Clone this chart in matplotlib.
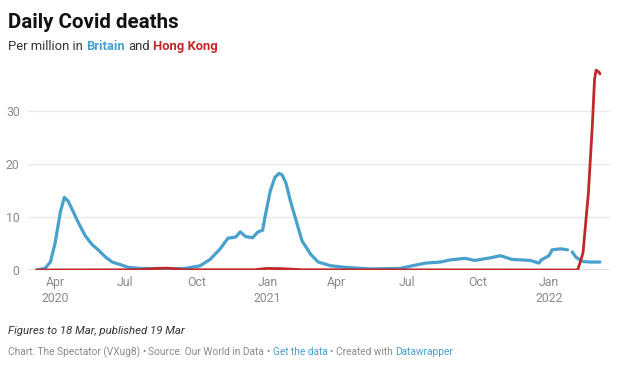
import matplotlib
matplotlib.use('Agg')
import matplotlib.pyplot as plt
import numpy as np
import pandas as pd

# Britain: daily deaths per million (7-day average)
uk_dates = ['2020-03-08', '2020-03-19', '2020-03-26', '2020-04-01', '2020-04-08',
            '2020-04-13', '2020-04-18', '2020-04-23', '2020-05-01', '2020-05-10',
            '2020-05-19', '2020-05-27', '2020-06-05', '2020-06-14', '2020-06-25',
            '2020-07-05', '2020-07-20', '2020-08-15', '2020-09-17', '2020-10-06',
            '2020-10-19', '2020-11-01', '2020-11-11', '2020-11-21', '2020-11-27',
            '2020-12-04', '2020-12-13', '2020-12-20', '2020-12-26', '2020-12-29',
            '2021-01-05', '2021-01-11', '2021-01-16', '2021-01-20', '2021-01-25',
            '2021-01-31', '2021-02-08', '2021-02-15', '2021-02-26', '2021-03-08',
            '2021-03-24', '2021-04-12', '2021-05-14', '2021-06-22', '2021-07-08',
            '2021-07-25', '2021-08-13', '2021-08-26', '2021-09-14', '2021-09-27',
            '2021-10-17', '2021-10-30', '2021-11-14', '2021-12-08', '2021-12-19',
            '2021-12-22', '2022-01-01', '2022-01-05', '2022-01-16', '2022-01-25',
            '2022-01-27', '2022-01-31', '2022-02-05', '2022-02-14', '2022-02-23',
            '2022-03-08']
uk_deaths = [0.0, 0.3, 1.5, 5.0, 11.0,
             13.7, 13.0, 11.5, 9.0, 6.5,
             4.8, 3.8, 2.5, 1.5, 1.0,
             0.5, 0.3, 0.2, 0.3, 0.8,
             2.0, 4.0, 6.0, 6.2, 7.2,
             6.3, 6.1, 7.2, 7.5, 10.0,
             15.0, 17.5, 18.2, 18.0, 16.5,
             13.0, 9.0, 5.5, 3.0, 1.5,
             0.8, 0.5, 0.2, 0.3, 0.8,
             1.3, 1.5, 1.9, 2.2, 1.8,
             2.3, 2.7, 2.0, 1.8, 1.3,
             1.9, 2.7, 3.8, 4.0, 3.8,
             np.nan, 3.4, 2.4, 1.6, 1.5,
             1.5]

# Hong Kong: daily deaths per million (7-day average)
hk_dates = ['2020-03-08', '2020-07-20', '2020-08-10', '2020-08-25', '2020-09-15',
            '2020-12-15', '2021-01-01', '2021-01-20', '2021-02-15', '2022-02-07',
            '2022-02-10', '2022-02-14', '2022-02-21', '2022-02-26', '2022-03-01',
            '2022-03-03', '2022-03-07', '2022-03-08']
hk_deaths = [0.0, 0.05, 0.3, 0.35, 0.05,
             0.05, 0.3, 0.25, 0.05, 0.0,
             1.3, 3.2, 14.5, 27.0, 36.0,
             37.7, 37.3, 37.0]

tick_dates = ['2020-04-01', '2020-07-01', '2020-10-01', '2021-01-01', '2021-04-01',
              '2021-07-01', '2021-10-01', '2022-01-01']
tick_labels = ['Apr\n2020', 'Jul', 'Oct', 'Jan\n2021', 'Apr', 'Jul', 'Oct', 'Jan\n2022']
y_ticks = [0, 10, 20, 30]

BLUE = '#48a0cd'
RED = '#c0282a'
GREY = '#8a8a8a'

plt.rcParams['font.family'] = ['Roboto', 'DejaVu Sans']

fig = plt.figure(figsize=(6.2, 3.69), dpi=100)
ax = fig.add_axes([28 / 620, 1 - 270 / 369, 582 / 620, 212 / 369])

# Lines
ax.plot(pd.to_datetime(uk_dates), uk_deaths, c=BLUE, lw=2.3, zorder=3,
        solid_joinstyle='round', solid_capstyle='round')
ax.axhline(0, c='#333333', lw=0.9, zorder=2)
ax.plot(pd.to_datetime(hk_dates), hk_deaths, c=RED, lw=2.0, zorder=4,
        solid_joinstyle='round', solid_capstyle='round')

# Axes limits and gridlines
ax.set_xlim(pd.Timestamp('2020-02-26'), pd.Timestamp('2022-03-21'))
ax.set_ylim(0, 40)
ax.set_yticks(y_ticks)
ax.set_yticklabels([str(v) for v in y_ticks])
ax.grid(axis='y', color='#e8e8e8', lw=0.9, zorder=1)
ax.set_xticks(pd.to_datetime(tick_dates))
ax.set_xticklabels(tick_labels, linespacing=1.35)
ax.tick_params(axis='both', length=0, labelsize=8.8, labelcolor=GREY)
ax.tick_params(axis='x', pad=4)
ax.tick_params(axis='y', pad=6)
for s in ax.spines.values():
    s.set_visible(False)

# Title and subtitle
fig.text(8 / 620, 1 - 28 / 369, 'Daily Covid deaths', fontsize=14.8, fontweight='bold',
         color='#111111', va='baseline')
t1 = fig.text(8 / 620, 1 - 50 / 369, 'Per million in', fontsize=9.4,
              color='#333333', va='baseline')
t2 = fig.text(0, 0, 'Britain', fontsize=9.4, fontweight='bold', color=BLUE)
t3 = fig.text(0, 0, 'and', fontsize=9.4, color='#333333')
t4 = fig.text(0, 0, 'Hong Kong', fontsize=9.4, fontweight='bold', color=RED)

# Footer
fig.text(8 / 620, 1 - 334 / 369, 'Figures to 18 Mar, published 19 Mar', fontsize=8.2,
         style='italic', color='#333333', va='baseline')
fs = 7.3
f1 = fig.text(8 / 620, 1 - 355 / 369,
              'Chart: The Spectator (VXug8)', fontsize=fs, color=GREY, va='baseline')
b1 = fig.text(0, 0, '\u2022', fontsize=fs, color=GREY)
f2 = fig.text(0, 0, 'Source: Our World in Data', fontsize=fs, color=GREY)
b2 = fig.text(0, 0, '\u2022', fontsize=fs, color=GREY)
f3 = fig.text(0, 0, 'Get the data', fontsize=fs, color=BLUE)
b3 = fig.text(0, 0, '\u2022', fontsize=fs, color=GREY)
f4 = fig.text(0, 0, 'Created with', fontsize=fs, color=GREY)
f5 = fig.text(0, 0, 'Datawrapper', fontsize=fs, color=BLUE)

# Place the pieces one after another, with a word space between
renderer = fig.canvas.get_renderer()
for row, gap in [([t1, t2, t3, t4], 3.2), ([f1, b1, f2, b2, f3, b3, f4, f5], 2.5)]:
    x, y = row[0].get_position()
    for prev, cur in zip(row[:-1], row[1:]):
        bb = prev.get_window_extent(renderer)
        x = x + (bb.width + gap) / fig.bbox.width
        cur.set_position((x, y))
        cur.set_va('baseline')

fig.savefig('out.png', dpi=100)
plt.close(fig)
